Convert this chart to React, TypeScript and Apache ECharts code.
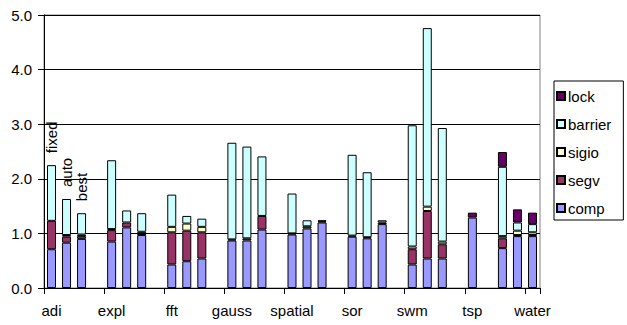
import React, { useEffect, useRef } from "react";
import * as echarts from "echarts";

// 33 slots: each benchmark gets fixed/auto/best bars followed by a blank slot
const slotLabels = [
  "adi", "", "", "",
  "expl", "", "", "",
  "fft", "", "", "",
  "gauss", "", "", "",
  "spatial", "", "", "",
  "sor", "", "", "",
  "swm", "", "", "",
  "tsp", "", "", "",
  "water",
];
const variantLabels = ["fixed", "auto", "best"];
const yTicks = [0, 1, 2, 3, 4, 5];

const N = null;
const comp = [0.71, 0.83, 0.90, N, 0.85, 1.11, 0.97, N, 0.43, 0.49, 0.54, N, 0.87, 0.87, 1.07, N, 0.98, 1.09, 1.20, N, 0.94, 0.91, 1.17, N, 0.43, 0.54, 0.54, N, 1.29, N, 0.73, 0.95, 0.95];
const segv = [0.52, 0.11, 0.05, N, 0.21, 0.09, 0.03, N, 0.59, 0.56, 0.48, N, 0.02, 0.04, 0.25, N, 0.02, 0.04, 0.02, N, 0.02, 0.02, 0.03, N, 0.28, 0.87, 0.26, N, N, N, 0.18, 0.02, 0.02];
const sigio = [N, 0.03, 0.03, N, 0.02, N, 0.03, N, 0.10, 0.13, 0.10, N, N, N, N, N, N, N, 0.02, N, N, N, N, N, 0.05, 0.08, 0.05, N, N, N, 0.04, 0.08, 0.05];
const barrier = [1.02, 0.66, 0.39, N, 1.26, 0.22, 0.34, N, 0.59, 0.14, 0.15, N, 1.77, 1.68, 1.09, N, 0.73, 0.11, N, N, 1.48, 1.19, 0.04, N, 2.22, 3.27, 2.08, N, N, N, 1.27, 0.15, 0.15];
const lock = [N, N, N, N, N, N, N, N, N, N, N, N, N, N, N, N, N, N, N, N, N, N, N, N, N, N, N, N, 0.09, N, 0.27, 0.24, 0.21];

const seriesNames = ["comp", "segv", "sigio", "barrier", "lock"];
const seriesData = [comp, segv, sigio, barrier, lock];
const seriesColors = ["#9999FF", "#993366", "#FFFFCC", "#CCFFFF", "#660066"];
const legendOrder = ["lock", "barrier", "sigio", "segv", "comp"];

const FONT = "'Liberation Sans', Arial, sans-serif";

export default function App() {
  const ref = useRef<HTMLDivElement>(null);
  useEffect(() => {
    if (!ref.current) return;
    const chart = echarts.init(ref.current, undefined, { renderer: "svg" });
    const categories = slotLabels.map((l, i) => (l ? l : "_" + i));
    const series = seriesNames.map((name, si) => ({
      name,
      type: "bar",
      stack: "total",
      barWidth: 9,
      itemStyle: { color: seriesColors[si], borderColor: "#000", borderWidth: 1 },
      data: seriesData[si].map((v, i) => {
        if (name === "barrier" && i < variantLabels.length) {
          return {
            value: v,
            label: {
              show: true,
              position: "top",
              rotate: 90,
              align: "left",
              verticalAlign: "middle",
              distance: 12,
              formatter: variantLabels[i],
              color: "#000",
              fontSize: 15,
              fontFamily: FONT,
            },
          };
        }
        return v;
      }),
    }));
    chart.setOption({
      animation: false,
      grid: {
        left: 44,
        right: 87,
        top: 15,
        bottom: 37,
        show: true,
        borderColor: "#808080",
        borderWidth: 1,
      },
      legend: {
        data: legendOrder,
        orient: "vertical",
        left: 554,
        top: 81,
        itemWidth: 8,
        itemHeight: 8,
        itemGap: 12,
        icon: "rect",
        padding: [7, 12, 4, 2],
        borderColor: "#000",
        borderWidth: 1,
        textStyle: { fontSize: 15, fontFamily: FONT, color: "#000", lineHeight: 16, padding: [0, 0, 0, -2] },
      },
      xAxis: {
        type: "category",
        data: categories,
        boundaryGap: true,
        axisLine: { lineStyle: { color: "#000", width: 1 } },
        axisTick: { show: true, interval: 3, length: 6, lineStyle: { color: "#000" } },
        axisLabel: {
          interval: 3,
          margin: 15,
          fontSize: 15,
          fontFamily: FONT,
          color: "#000",
          formatter: (v: string) => (v.startsWith("_") ? "" : v),
        },
        splitLine: { show: false },
      },
      yAxis: {
        type: "value",
        min: yTicks[0],
        max: yTicks[yTicks.length - 1],
        interval: 1,
        axisLine: { show: true, lineStyle: { color: "#000", width: 1 } },
        axisTick: { show: true, length: 6, lineStyle: { color: "#000" } },
        axisLabel: {
          margin: 12,
          fontSize: 15,
          fontFamily: FONT,
          color: "#000",
          formatter: (v: number) => v.toFixed(1),
        },
        splitLine: { show: true, lineStyle: { color: "#000", width: 1 } },
      },
      series,
    });
    return () => chart.dispose();
  }, []);
  return <div ref={ref} style={{ position: "absolute", left: 0, top: 0, width: 627, height: 325 }} />;
}
